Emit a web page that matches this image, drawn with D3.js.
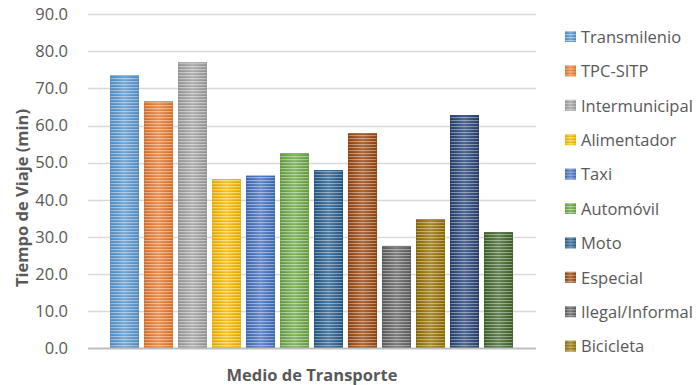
<!DOCTYPE html>
<html>
<head>
<meta charset="utf-8">
<script src="https://cdn.jsdelivr.net/npm/d3@7"></script>
<style>
  html, body { margin: 0; padding: 0; background: #fff; }
  svg { display: block; font-family: "Open Sans", "Noto Sans", sans-serif; }
</style>
</head>
<body>
<svg id="chart" width="696" height="385"></svg>
<script>
// Tiempo medio de viaje por medio de transporte (minutos)
const modes = ["Transmilenio", "TPC-SITP", "Intermunicipal", "Alimentador", "Taxi",
               "Automóvil", "Moto", "Especial", "Ilegal/Informal", "Bicicleta",
               "A pie", "Otro"];
const minutes = [73.5, 66.5, 77.0, 45.6, 46.5, 52.6, 48.0, 57.9, 27.6, 34.8, 62.8, 31.3];
const colors = ["#5B9BD5", "#ED7D31", "#A5A5A5", "#FFC000", "#4472C4", "#70AD47",
                "#255E91", "#9E480E", "#636363", "#997300", "#264478", "#43682B"];
const yTicks = [0, 10, 20, 30, 40, 50, 60, 70, 80, 90];
const legendCount = 10; // the legend box only has room for the first ten entries

const svg = d3.select("#chart");
const plot = { left: 88, right: 536, top: 14, bottom: 348.5 };

const y = d3.scaleLinear().domain([0, 90]).range([plot.bottom, plot.top]);
const x = d3.scaleBand().domain(modes)
  .range([plot.left + 22, plot.right - 23])
  .paddingInner(0.147).paddingOuter(0);

const defs = svg.append("defs");
// thin horizontal stripes laid over every bar
const stripe = defs.append("pattern")
  .attr("id", "stripes").attr("patternUnits", "userSpaceOnUse")
  .attr("width", 8).attr("height", 3);
stripe.append("rect").attr("x", 0).attr("y", 0).attr("width", 8).attr("height", 1)
  .attr("fill", "#ffffff").attr("fill-opacity", 0.38);
stripe.append("rect").attr("x", 0).attr("y", 2).attr("width", 8).attr("height", 1)
  .attr("fill", "#000000").attr("fill-opacity", 0.07);

// horizontal shading: darker edges, lighter centre
modes.forEach((m, i) => {
  const c = d3.color(colors[i]);
  const g = defs.append("linearGradient").attr("id", "grad" + i)
    .attr("x1", "0%").attr("x2", "100%").attr("y1", "0%").attr("y2", "0%");
  g.append("stop").attr("offset", "0%").attr("stop-color", c.darker(0.25));
  g.append("stop").attr("offset", "50%").attr("stop-color", d3.interpolateRgb(c, "#fff")(0.22));
  g.append("stop").attr("offset", "100%").attr("stop-color", c.darker(0.25));
});

// gridlines
svg.append("g").selectAll("line").data(yTicks.filter(t => t > 0)).join("line")
  .attr("x1", plot.left).attr("x2", plot.right)
  .attr("y1", d => Math.round(y(d)) + 0.5).attr("y2", d => Math.round(y(d)) + 0.5)
  .attr("stroke", "#d9d9d9").attr("stroke-width", 1.5);

// y axis labels
const yAxis = d3.axisLeft(y).tickValues(yTicks).tickFormat(d3.format(".1f"))
  .tickSize(0).tickPadding(20);
const ya = svg.append("g").attr("transform", `translate(${plot.left},0)`).call(yAxis);
ya.select(".domain").remove();
ya.selectAll("text").attr("fill", "#595959").attr("font-size", 16.5)
  .attr("font-family", "'Open Sans', sans-serif");

// bars
const bars = svg.append("g").selectAll("g").data(modes).join("g");
bars.append("rect")
  .attr("x", d => x(d)).attr("width", x.bandwidth())
  .attr("y", (d, i) => y(minutes[i])).attr("height", (d, i) => y(0) - y(minutes[i]))
  .attr("fill", (d, i) => `url(#grad${i})`);
bars.append("rect")
  .attr("x", d => x(d)).attr("width", x.bandwidth())
  .attr("y", (d, i) => y(minutes[i])).attr("height", (d, i) => y(0) - y(minutes[i]))
  .attr("fill", "url(#stripes)");
bars.append("rect")
  .attr("x", d => x(d) + 0.5).attr("width", x.bandwidth() - 1)
  .attr("y", (d, i) => y(minutes[i]) + 0.5).attr("height", (d, i) => y(0) - y(minutes[i]) - 1)
  .attr("fill", "none").attr("stroke", (d, i) => d3.color(colors[i]).darker(0.2))
  .attr("stroke-opacity", 0.6).attr("stroke-width", 1);

// category axis line
svg.append("line").attr("x1", plot.left).attr("x2", plot.right)
  .attr("y1", plot.bottom).attr("y2", plot.bottom)
  .attr("stroke", "#bfbfbf").attr("stroke-width", 2);

// axis titles
svg.append("text").attr("x", (plot.left + plot.right) / 2).attr("y", 381)
  .attr("text-anchor", "middle").attr("font-weight", "bold").attr("font-size", 16.5)
  .attr("fill", "#595959").text("Medio de Transporte");
svg.append("text").attr("transform", "translate(28,198) rotate(-90)")
  .attr("text-anchor", "middle").attr("font-weight", "bold").attr("font-size", 16.5)
  .attr("fill", "#595959").text("Tiempo de Viaje (min)");

// legend
const leg = svg.append("g").selectAll("g").data(modes.slice(0, legendCount)).join("g")
  .attr("transform", (d, i) => `translate(565, ${37 + i * 34.4})`);
leg.append("rect").attr("x", 0).attr("y", -6).attr("width", 11).attr("height", 11)
  .attr("fill", (d, i) => `url(#grad${i})`);
leg.append("rect").attr("x", 0).attr("y", -6).attr("width", 11).attr("height", 11)
  .attr("fill", "url(#stripes)");
leg.append("text").attr("x", 16).attr("y", 0).attr("dy", "0.35em")
  .attr("font-size", 16.5).attr("fill", "#595959").text(d => d);
</script>
</body>
</html>
